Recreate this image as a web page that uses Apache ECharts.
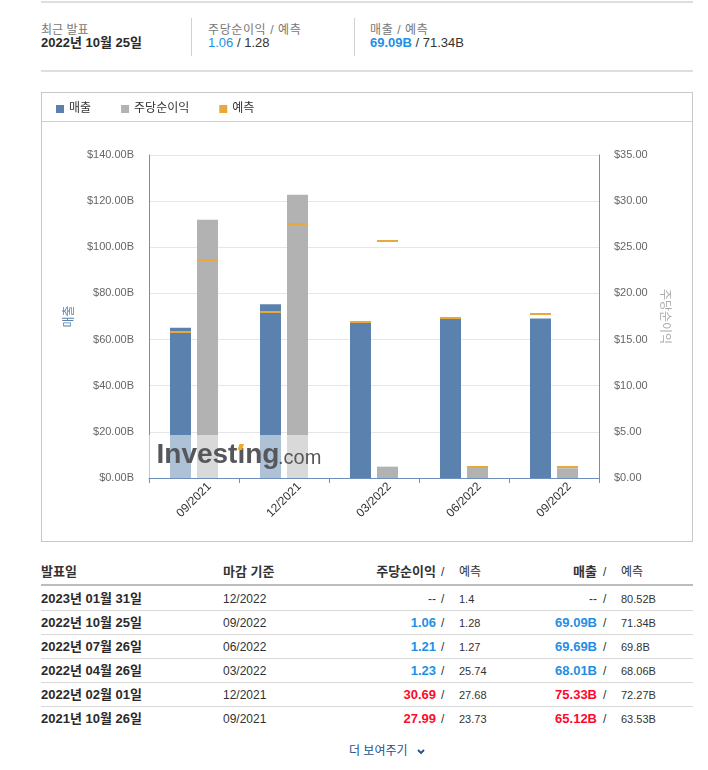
<!DOCTYPE html>
<html>
<head>
<meta charset="utf-8">
<script src="https://cdn.jsdelivr.net/npm/echarts@6/dist/echarts.min.js"></script>
<style>
  html, body { margin:0; padding:0; background:#fff; }
  body { width:708px; height:770px; position:relative; overflow:hidden;
         font-family:"Liberation Sans", Arial, "Noto Sans CJK KR", sans-serif; color:#333; }
  .a { position:absolute; white-space:nowrap; }
  .blue { color:#1f8fe6; font-weight:bold; }
  .red { color:#ff0a2a; font-weight:bold; }
</style>
</head>
<body>
<div id="hdr"></div>
<div id="chart" style="position:absolute;left:41px;top:92px;width:652px;height:450px;"></div>
<div style="position:absolute;left:41px;top:92px;width:652px;height:450px;border:1px solid #c8c8c8;box-sizing:border-box;pointer-events:none;"></div>
<div style="position:absolute;left:42px;top:121px;width:650px;height:1px;background:#cfcfcf;"></div>
<div id="tbl"></div>
<script>
// ---------------- data ----------------
const categories = ['09/2021', '12/2021', '03/2022', '06/2022', '09/2022'];
const revenue = [65.12, 75.33, 68.01, 69.69, 69.09];
const revenueForecast = [63.53, 72.27, 68.06, 69.8, 71.34];
const eps = [27.99, 30.69, 1.23, 1.21, 1.06];
const epsForecast = [23.73, 27.68, 25.74, 1.27, 1.28];

const legendNames = ['매출', '주당순이익', '예측'];
const leftAxisName = '매출';
const rightAxisName = '주당순이익';

// table data
const tHeaders = ['발표일', '마감 기준', '주당순이익', '예측', '매출', '예측'];
const tDates = ['2023년 01월 31일', '2022년 10월 25일', '2022년 07월 26일', '2022년 04월 26일', '2022년 02월 01일', '2021년 10월 26일'];
const tPeriods = ['12/2022', '09/2022', '06/2022', '03/2022', '12/2021', '09/2021'];
const tEps = ['--', '1.06', '1.21', '1.23', '30.69', '27.99'];
const tEpsF = ['1.4', '1.28', '1.27', '25.74', '27.68', '23.73'];
const tRev = ['--', '69.09B', '69.69B', '68.01B', '75.33B', '65.12B'];
const tRevF = ['80.52B', '71.34B', '69.8B', '68.06B', '72.27B', '63.53B'];
const tEpsCls = ['', 'blue', 'blue', 'blue', 'red', 'red'];
const tRevCls = ['', 'blue', 'blue', 'blue', 'red', 'red'];

// header summary
const hdrLabels = ['최근 발표', '주당순이익 / 예측', '매출 / 예측'];
const hdrDate = '2022년 10월 25일';
const hdrEps = ['1.06', '1.28'];
const hdrRev = ['69.09B', '71.34B'];
const moreText = '더 보여주기';

// ---------------- header HTML ----------------
function el(parent, html, style) {
  const d = document.createElement('div');
  d.className = 'a';
  d.innerHTML = html;
  d.setAttribute('style', style);
  parent.appendChild(d);
  return d;
}
const hdr = document.getElementById('hdr');
el(hdr, '', 'left:41px;top:1px;width:652px;height:2px;background:#dedede;');
el(hdr, '', 'left:41px;top:70px;width:652px;height:2px;background:#dedede;');
el(hdr, '', 'left:191px;top:18px;width:1px;height:38px;background:#d0d0d0;');
el(hdr, '', 'left:354px;top:18px;width:1px;height:38px;background:#d0d0d0;');
el(hdr, hdrLabels[0], 'left:41px;top:23px;font-size:12px;line-height:14px;color:#777;');
el(hdr, hdrDate, 'left:41px;top:35px;font-size:13px;line-height:16px;font-weight:bold;color:#2a2a2a;');
el(hdr, hdrLabels[1], 'left:208px;top:23px;font-size:12px;line-height:14px;color:#777;letter-spacing:0.6px;');
el(hdr, '<span class="blue" style="font-weight:normal;">' + hdrEps[0] + '</span> / ' + hdrEps[1], 'left:208px;top:35px;font-size:13px;line-height:16px;color:#333;');
el(hdr, hdrLabels[2], 'left:370px;top:23px;font-size:12px;line-height:14px;color:#777;letter-spacing:0.6px;');
el(hdr, '<span class="blue">' + hdrRev[0] + '</span> / ' + hdrRev[1], 'left:370px;top:35px;font-size:13px;line-height:16px;color:#333;');

// ---------------- table HTML ----------------
const tbl = document.getElementById('tbl');
const hy = 572;
el(tbl, tHeaders[0], `left:41px;top:${hy-8}px;font-size:13px;line-height:16px;font-weight:bold;`);
el(tbl, tHeaders[1], `left:223px;top:${hy-8}px;font-size:13px;line-height:16px;font-weight:bold;`);
el(tbl, tHeaders[2], `left:336px;width:100px;text-align:right;top:${hy-8}px;font-size:13px;line-height:16px;font-weight:bold;`);
el(tbl, '/', `left:441px;top:${hy-7}px;font-size:12px;line-height:14px;`);
el(tbl, tHeaders[3], `left:459px;top:${hy-7}px;font-size:12px;line-height:14px;`);
el(tbl, tHeaders[4], `left:497px;width:100px;text-align:right;top:${hy-8}px;font-size:13px;line-height:16px;font-weight:bold;`);
el(tbl, '/', `left:603px;top:${hy-7}px;font-size:12px;line-height:14px;`);
el(tbl, tHeaders[5], `left:621px;top:${hy-7}px;font-size:12px;line-height:14px;`);
el(tbl, '', 'left:41px;top:584px;width:652px;height:2px;background:#bdbdbd;');
for (let i = 0; i < tDates.length; i++) {
  const cy = 598.5 + i * 24;
  if (i > 0) el(tbl, '', `left:41px;top:${cy - 13}px;width:652px;height:1px;background:#d8d8d8;`);
  el(tbl, tDates[i], `left:41px;top:${cy-8}px;font-size:13px;line-height:16px;font-weight:bold;color:#2a2a2a;`);
  el(tbl, tPeriods[i], `left:223px;top:${cy-7}px;font-size:12px;line-height:14px;`);
  el(tbl, `<span class="${tEpsCls[i]}">${tEps[i]}</span>`, `left:336px;width:100px;text-align:right;top:${cy-8}px;font-size:${tEpsCls[i] ? 13 : 12}px;line-height:16px;`);
  el(tbl, '/', `left:441px;top:${cy-7}px;font-size:12px;line-height:14px;`);
  el(tbl, tEpsF[i], `left:459px;top:${cy-7}px;font-size:11px;line-height:14px;`);
  el(tbl, `<span class="${tRevCls[i]}">${tRev[i]}</span>`, `left:497px;width:100px;text-align:right;top:${cy-8}px;font-size:${tRevCls[i] ? 13 : 12}px;line-height:16px;`);
  el(tbl, '/', `left:603px;top:${cy-7}px;font-size:12px;line-height:14px;`);
  el(tbl, tRevF[i], `left:621px;top:${cy-7}px;font-size:11px;line-height:14px;`);
}
el(tbl, moreText + ' <svg width="8" height="6" style="margin-left:6px;vertical-align:middle;"><polyline points="1,1 4,4 7,1" fill="none" stroke="#1f4f8f" stroke-width="1.8"/></svg>',
   'left:349px;top:744px;font-size:12px;line-height:15px;color:#1f4f8f;');

// ---------------- chart ----------------
const FONT = '"Liberation Sans", Arial, "Noto Sans CJK KR", sans-serif';
const BLUE = '#5b82ae', GRAY = '#b2b2b2', ORANGE = '#e9a83a', AX = '#6f90bf';
const BAR_W = 21, BAR_GAP = 6;

function marker(side) {
  return function (params, api) {
    const p = api.coord([api.value(0), api.value(1)]);
    const cx = p[0] + side * (BAR_W + BAR_GAP) / 2;
    return {
      type: 'rect',
      shape: { x: Math.round(cx - BAR_W / 2), y: Math.round(p[1]), width: BAR_W, height: 2 },
      style: { fill: ORANGE }
    };
  };
}

const chart = echarts.init(document.getElementById('chart'), null, { renderer: 'canvas' });
chart.setOption({
  animation: false,
  textStyle: { fontFamily: FONT },
  legend: {
    left: 10, top: 6, itemWidth: 8, itemHeight: 8, itemGap: 30,
    textStyle: { color: '#333', fontSize: 12, fontFamily: FONT },
    data: legendNames.map(n => ({ name: n, icon: 'rect' }))
  },
  grid: { left: 108, right: 94, top: 63, bottom: 64 },
  xAxis: {
    type: 'category', data: categories,
    axisLine: { lineStyle: { color: AX } },
    axisTick: { show: true, length: 5, lineStyle: { color: AX } },
    axisLabel: { rotate: 45, align: 'center', verticalAlign: 'middle', margin: 22, color: '#333', fontSize: 12, fontFamily: FONT }
  },
  yAxis: [
    {
      type: 'value', min: 0, max: 140, interval: 20, position: 'left',
      name: leftAxisName, nameLocation: 'middle', nameGap: 72,
      nameTextStyle: { color: BLUE, fontSize: 12, fontFamily: FONT },
      axisLine: { show: true, lineStyle: { color: AX } },
      axisTick: { show: false },
      axisLabel: { color: '#666', fontSize: 11, margin: 15, padding: [4, 0, 0, 0], fontFamily: FONT, formatter: v => '$' + v.toFixed(2) + 'B' },
      splitLine: { lineStyle: { color: '#e6e6e6' } }
    },
    {
      type: 'value', min: 0, max: 35, interval: 5, position: 'right',
      name: rightAxisName, nameLocation: 'middle', nameGap: 57, nameRotate: -90,
      nameTextStyle: { color: '#aaa', fontSize: 12, fontFamily: FONT },
      axisLine: { show: true, lineStyle: { color: AX } },
      axisTick: { show: false },
      axisLabel: { color: '#666', fontSize: 11, margin: 15, padding: [4, 0, 0, 0], fontFamily: FONT, formatter: v => '$' + v.toFixed(2) },
      splitLine: { show: false }
    }
  ],
  series: [
    { name: legendNames[0], type: 'bar', yAxisIndex: 0, data: revenue, barWidth: BAR_W, barGap: (BAR_GAP / BAR_W * 100) + '%', itemStyle: { color: BLUE } },
    { name: legendNames[1], type: 'bar', yAxisIndex: 1, data: eps, barWidth: BAR_W, barGap: (BAR_GAP / BAR_W * 100) + '%', itemStyle: { color: GRAY } },
    { name: legendNames[2], type: 'custom', yAxisIndex: 0, z: 3, itemStyle: { color: ORANGE },
      data: revenueForecast.map((v, i) => [i, v]), renderItem: marker(-1) },
    { name: legendNames[2], type: 'custom', yAxisIndex: 1, z: 3, itemStyle: { color: ORANGE },
      data: epsForecast.map((v, i) => [i, v]), renderItem: marker(1) }
  ],
  graphic: [
    { type: 'rect', z: 100, shape: { x: 108, y: 343, width: 173, height: 43 }, style: { fill: 'rgba(255,255,255,0.5)' } },
    { type: 'text', z: 101, x: 115.5, y: 363.5,
      style: { text: 'Investıng', fontSize: 28, fontWeight: 'bold', fontFamily: '"Liberation Sans", Arial, sans-serif', fill: '#55575a', verticalAlign: 'middle' } },
    { type: 'text', z: 101, x: 237, y: 366.5,
      style: { text: '.com', fontSize: 20, fontFamily: '"Liberation Sans", Arial, sans-serif', fill: '#55575a', verticalAlign: 'middle' } },
    { type: 'polygon', z: 102, shape: { points: [[196.5, 358], [198.5, 352], [203, 352], [201, 358]] }, style: { fill: '#f5a623' } }
  ]
});
</script>
</body>
</html>
